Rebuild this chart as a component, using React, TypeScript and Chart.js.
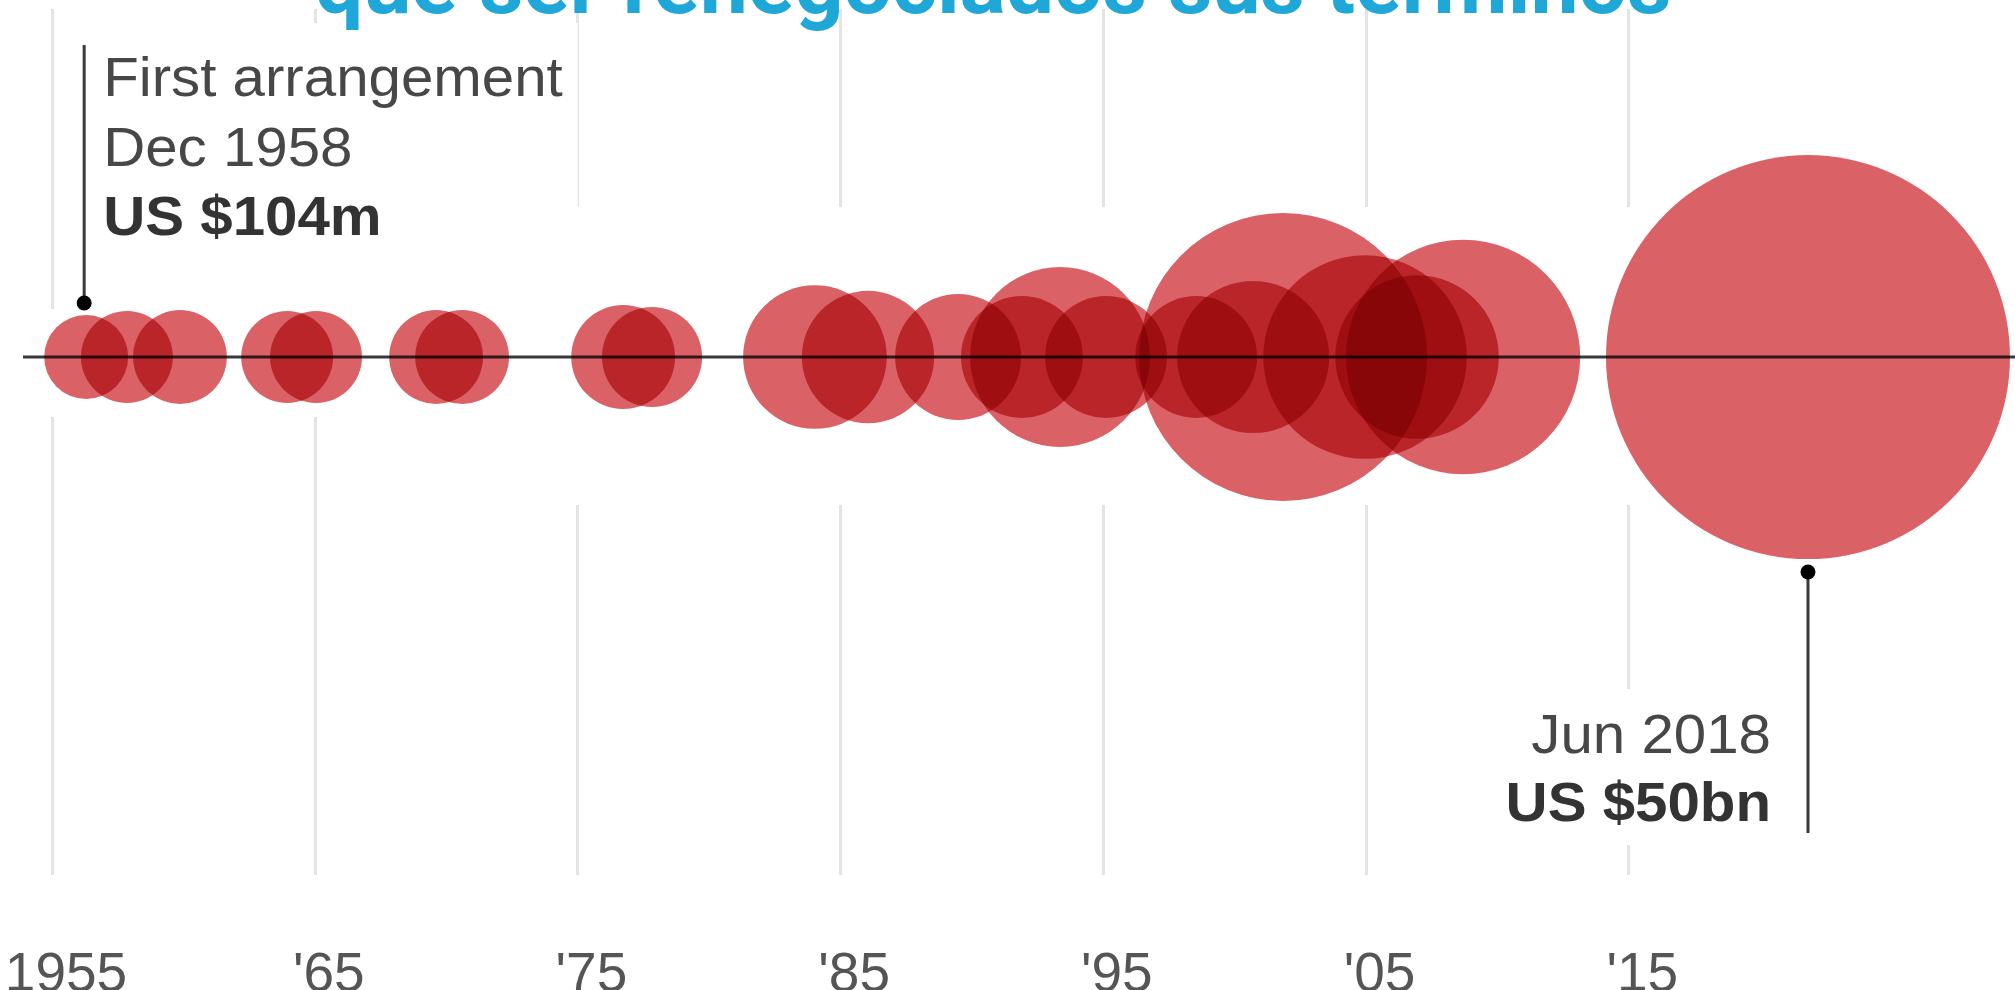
import { useEffect, useRef } from "react";
import { Chart, registerables } from "chart.js";

Chart.register(...registerables);

// Axis ticks
const tickYears = [1955, 1965, 1975, 1985, 1995, 2005, 2015];
const tickLabels = ["1955", "'65", "'75", "'85", "'95", "'05", "'15"];

// Each arrangement's position on the timeline (decimal years)
const arrangementYears = [
  1956.3, 1957.85, 1959.87, 1963.95, 1965.05, 1969.62, 1970.61, 1976.74,
  1977.84, 1984.04, 1986.06, 1989.49, 1991.92, 1993.37, 1995.12, 1998.55,
  2000.72, 2001.86, 2004.98, 2006.96, 2008.71, 2021.84,
];
// Size of each arrangement, US$ bn
const arrangementAmounts = [
  0.104, 0.24, 0.28, 0.24, 0.24, 0.28, 0.28, 0.55, 0.44, 2.5, 1.8, 1.46,
  1.26, 5.5, 1.26, 1.26, 3.1, 21.4, 8.1, 4.0, 12.2, 50,
];

const title = "que ser renegociados sus términos";
const firstNote = ["First arrangement", "Dec 1958", "US $104m"];
const lastNote = ["Jun 2018", "US $50bn"];

const BUBBLE = "rgb(218,97,102)";
const TEXT = "#474747";
const TEXT_BOLD = "#333333";
const GRID = "#e4e4e4";
const FONT = "'Liberation Sans', Arial, sans-serif";

// Bubble radius in pixels for an amount in US$ bn
const radiusFor = (bn: number) => 34.35 + 23.71 * Math.sqrt(bn);

// text drawn slightly wide, like the note lettering
function wideText(ctx: CanvasRenderingContext2D, s: string, x: number, y: number, sx: number) {
  ctx.save();
  ctx.translate(x, y);
  ctx.scale(sx, 1);
  ctx.fillText(s, 0, 0);
  ctx.restore();
}

const decorations = {
  id: "decorations",
  beforeDatasetsDraw(chart: any) {
    const { ctx } = chart;
    const xs = chart.scales.x;
    const ys = chart.scales.y;
    const y0 = ys.getPixelForValue(0);

    ctx.save();
    // vertical gridlines, broken around the bubble band
    ctx.strokeStyle = GRID;
    ctx.lineWidth = 3;
    tickYears.forEach((year, i) => {
      const px = Math.round(xs.getPixelForValue(year)) + 0.5;
      const upperEnd = i === 0 ? y0 - 48 : y0 - 150;
      const lowerStart = i < 2 ? y0 + 60 : y0 + 148;
      ctx.beginPath();
      ctx.moveTo(px, 9);
      ctx.lineTo(px, upperEnd);
      ctx.moveTo(px, lowerStart);
      ctx.lineTo(px, y0 + 518);
      ctx.stroke();
    });

    // white backing behind the note texts
    ctx.fillStyle = "#ffffff";
    const first = chart.getDatasetMeta(0).data[0];
    const last = chart.getDatasetMeta(0).data[arrangementYears.length - 1];
    ctx.font = `56px ${FONT}`;
    const w1 = ctx.measureText(firstNote[0]).width * 1.04;
    ctx.fillRect(first.x + 10, 23, w1 + 22, y0 - 150 - 23);
    const w2 = ctx.measureText(lastNote[0]).width * 1.04 + 40;
    ctx.fillRect(last.x - 37 - w2 - 10, y0 + 332, w2 + 20, 156);

    // baseline
    ctx.strokeStyle = "#383838";
    ctx.lineWidth = 3;
    ctx.beginPath();
    ctx.moveTo(23, y0);
    ctx.lineTo(chart.width, y0);
    ctx.stroke();
    ctx.restore();

    // overlapping bubbles darken each other
    ctx.globalCompositeOperation = "multiply";
  },
  afterDatasetsDraw(chart: any) {
    const { ctx } = chart;
    ctx.globalCompositeOperation = "source-over";
    const xs = chart.scales.x;
    const ys = chart.scales.y;
    const y0 = ys.getPixelForValue(0);
    const pts = chart.getDatasetMeta(0).data;
    const first = pts[0];
    const last = pts[pts.length - 1];
    const r0 = first.options.radius;
    const rN = last.options.radius;

    ctx.save();
    ctx.strokeStyle = "#3a3a3a";
    ctx.fillStyle = "#000000";
    ctx.lineWidth = 3;

    // first arrangement pointer
    const fx = first.x - 2;
    const fy = y0 - r0 - 12;
    ctx.beginPath();
    ctx.moveTo(fx, 45);
    ctx.lineTo(fx, fy);
    ctx.stroke();
    ctx.beginPath();
    ctx.arc(fx, fy, 7.5, 0, Math.PI * 2);
    ctx.fill();

    // latest arrangement pointer
    const lx = last.x;
    const ly = y0 + rN + 13;
    ctx.beginPath();
    ctx.moveTo(lx, ly);
    ctx.lineTo(lx, y0 + 476);
    ctx.stroke();
    ctx.beginPath();
    ctx.arc(lx, ly, 7.5, 0, Math.PI * 2);
    ctx.fill();

    // note texts
    ctx.textBaseline = "alphabetic";
    ctx.textAlign = "left";
    ctx.fillStyle = TEXT;
    ctx.font = `56px ${FONT}`;
    wideText(ctx, firstNote[0], fx + 19, 96, 1.04);
    wideText(ctx, firstNote[1], fx + 19, 166, 1.04);
    ctx.fillStyle = TEXT_BOLD;
    ctx.font = `bold 56px ${FONT}`;
    wideText(ctx, firstNote[2], fx + 19, 235, 1.04);

    ctx.textAlign = "right";
    ctx.fillStyle = TEXT;
    ctx.font = `56px ${FONT}`;
    wideText(ctx, lastNote[0], lx - 37, y0 + 396, 1.04);
    ctx.fillStyle = TEXT_BOLD;
    ctx.font = `bold 56px ${FONT}`;
    wideText(ctx, lastNote[1], lx - 37, y0 + 464, 1.04);

    // year labels
    ctx.textAlign = "center";
    ctx.fillStyle = "#555555";
    ctx.font = `55px ${FONT}`;
    tickYears.forEach((year, i) => {
      ctx.fillText(tickLabels[i], xs.getPixelForValue(year) + 14, chart.height + 1);
    });

    // heading, cut by the top edge
    ctx.fillStyle = "#1fa7d7";
    ctx.font = "bold 86px Roboto, 'Liberation Sans', sans-serif";
    ctx.fillText(title, 993, 13);
    ctx.restore();
  },
};

export default function App() {
  const canvasRef = useRef<HTMLCanvasElement | null>(null);

  useEffect(() => {
    const canvas = canvasRef.current;
    if (!canvas) return;
    const chart = new Chart(canvas, {
      type: "bubble",
      data: {
        datasets: [
          {
            data: arrangementYears.map((x, i) => ({
              x,
              y: 0,
              r: radiusFor(arrangementAmounts[i]),
            })),
            backgroundColor: BUBBLE,
            borderWidth: 0,
            hoverRadius: 0,
            clip: false as any,
          },
        ],
      },
      options: {
        animation: false,
        responsive: false,
        devicePixelRatio: 1,
        events: [],
        layout: { padding: 0, autoPadding: false },
        plugins: {
          legend: { display: false },
          tooltip: { enabled: false },
        },
        scales: {
          x: { type: "linear", min: 1953.02, max: 2029.72, display: false },
          y: { type: "linear", min: -1.773, max: 1, display: false },
        },
      },
      plugins: [decorations],
    });
    return () => chart.destroy();
  }, []);

  return (
    <div style={{ position: "fixed", left: 0, top: 0, width: 2015, height: 990, background: "#fff" }}>
      <canvas ref={canvasRef} width={2015} height={990} style={{ display: "block" }} />
    </div>
  );
}
